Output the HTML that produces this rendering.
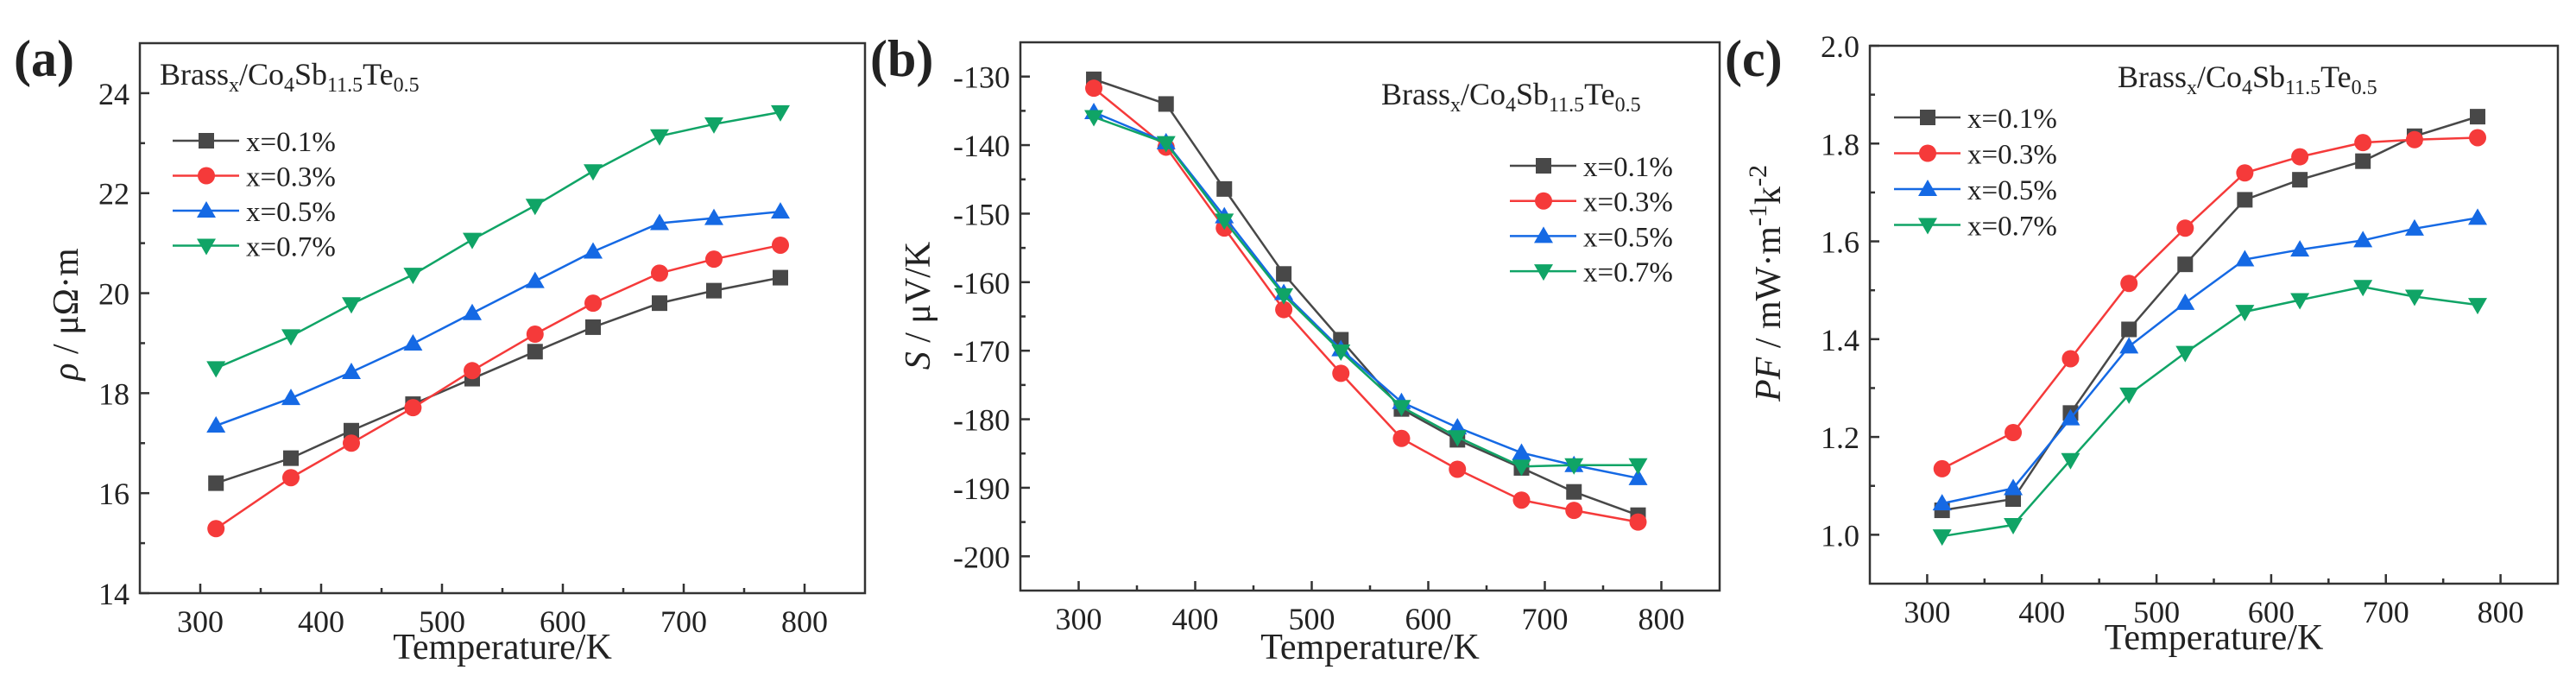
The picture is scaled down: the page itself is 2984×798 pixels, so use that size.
<!DOCTYPE html>
<html><head><meta charset="utf-8"><style>
html,body{margin:0;padding:0;background:#fff;}
svg{display:block;font-family:"Liberation Serif",serif;}
svg text{font-family:"Liberation Serif",serif;}
</style></head><body>
<svg id="fig" width="2984" height="798" viewBox="0 0 2984 798" xmlns="http://www.w3.org/2000/svg" font-family="Liberation Serif, serif"></svg>
<script>
const temps = [313, 375, 425, 476, 525, 577, 625, 680, 725, 780];
const seriesNames = ["x=0.1%", "x=0.3%", "x=0.5%", "x=0.7%"];
const rhoA1 = [16.2, 16.7, 17.25, 17.78, 18.29, 18.83, 19.32, 19.80, 20.05, 20.31];
const rhoA3 = [15.29, 16.31, 17.0, 17.71, 18.45, 19.18, 19.8, 20.4, 20.68, 20.96];
const rhoA5 = [17.35, 17.9, 18.42, 18.99, 19.6, 20.24, 20.83, 21.4, 21.5, 21.63];
const rhoA7 = [18.5, 19.14, 19.78, 20.37, 21.07, 21.75, 22.44, 23.14, 23.38, 23.62];
const seebB1 = [-130.4, -134, -146.4, -158.8, -168.4, -178.5, -183, -187.1, -190.6, -194];
const seebB3 = [-131.7, -140.3, -152.1, -164, -173.3, -182.8, -187.3, -191.8, -193.3, -195];
const seebB5 = [-135.2, -139.6, -150.4, -161.6, -169.8, -177.5, -181.2, -184.9, -186.7, -188.6];
const seebB7 = [-135.9, -139.7, -151, -161.9, -170.1, -178.2, -182.6, -186.9, -186.7, -186.7];
const pfC1 = [1.05, 1.073, 1.249, 1.42, 1.553, 1.685, 1.726, 1.764, 1.815, 1.855];
const pfC3 = [1.135, 1.209, 1.36, 1.514, 1.627, 1.74, 1.773, 1.802, 1.808, 1.812];
const pfC5 = [1.064, 1.095, 1.238, 1.385, 1.474, 1.563, 1.583, 1.602, 1.626, 1.648];
const pfC7 = [0.997, 1.02, 1.153, 1.287, 1.372, 1.456, 1.48, 1.507, 1.487, 1.47];
const xTicks = [300, 400, 500, 600, 700, 800];
const yTicksA = [14, 16, 18, 20, 22, 24];
const yTicksB = [-200, -190, -180, -170, -160, -150, -140, -130];
const yTicksC = [1.0, 1.2, 1.4, 1.6, 1.8, 2.0];

const NS = "http://www.w3.org/2000/svg";
const svg = document.getElementById("fig");
const FF = '"Liberation Serif", serif';
const colors = ["#484848", "#f53a3a", "#1569e4", "#10a466"];
const markers = ["square", "circle", "up", "down"];
function mk(tag, attrs, parent) {
  const e = document.createElementNS(NS, tag);
  for (const k in attrs) e.setAttribute(k, attrs[k]);
  if (tag === "text") e.style.fontFamily = FF;
  (parent || svg).appendChild(e);
  return e;
}
function marker(g, type, cx, cy, color) {
  let e;
  if (type === "square") e = mk("rect", {x: cx - 9, y: cy - 9, width: 18, height: 18, fill: color}, g);
  else if (type === "circle") e = mk("circle", {cx: cx, cy: cy, r: 10, fill: color}, g);
  else if (type === "up") e = mk("polygon", {points: `${cx},${cy - 11} ${cx + 11},${cy + 8} ${cx - 11},${cy + 8}`, fill: color}, g);
  else e = mk("polygon", {points: `${cx},${cy + 11} ${cx + 11},${cy - 8} ${cx - 11},${cy - 8}`, fill: color}, g);
  
  
  return e;
}
function panel(cfg) {
  const g = mk("g", {});
  
  
  const L = cfg.l, R = cfg.r, T = cfg.t, B = cfg.b;
  const sx = v => L + (v - 250) / 600 * (R - L);
  const sy = v => B - (v - cfg.ymin) / (cfg.ymax - cfg.ymin) * (B - T);
  for (let v = 300; v <= 800; v += 50) {
    const major = v % 100 === 0;
    const t = mk("line", {x1: sx(v), x2: sx(v), y1: B, y2: B - (major ? 11 : 6), stroke: "#333", "stroke-width": 2.5}, g);
    
    
  }
  xTicks.forEach(v => {
    const t = mk("text", {x: sx(v), y: B + 45, "font-size": 36, "text-anchor": "middle", fill: "#222"}, g);
    t.textContent = v;
    
    
  });
  const yt = cfg.yticks;
  const step = yt[1] - yt[0];
  for (let i = 0; i < yt.length; i++) {
    const v = yt[i];
    const t = mk("line", {x1: L, x2: L + 11, y1: sy(v), y2: sy(v), stroke: "#333", "stroke-width": 2.5}, g);
    
    
    const mv = v + step / 2;
    if (mv < cfg.ymax) {
      const m = mk("line", {x1: L, x2: L + 6, y1: sy(mv), y2: sy(mv), stroke: "#333", "stroke-width": 2.5}, g);
      
      
    }
    const lbl = mk("text", {x: L - 12, y: sy(v) + 13, "font-size": 36, "text-anchor": "end", fill: "#222"}, g);
    lbl.textContent = cfg.fmt(v);
    
    
  }
  cfg.data.forEach((arr, si) => {
    const sg = mk("g", {}, g);
    
    
    const pts = arr.map((v, i) => sx(temps[i]) + "," + sy(v)).join(" ");
    const pl = mk("polyline", {points: pts, fill: "none", stroke: colors[si], "stroke-width": 2.5}, sg);
    
    
    arr.forEach((v, i) => marker(sg, markers[si], sx(temps[i]), sy(v), colors[si]));
  });
  const fr = mk("rect", {x: L, y: T, width: R - L, height: B - T, fill: "none", stroke: "#333", "stroke-width": 2.5}, g);
  
  
  const lg = mk("g", {}, g);
  
  
  seriesNames.forEach((n, i) => {
    const y = cfg.legY + i * cfg.legDy;
    const ln = mk("line", {x1: cfg.legX, x2: cfg.legX + 77, y1: y, y2: y, stroke: colors[i], "stroke-width": 2.5}, lg);
    
    
    marker(lg, markers[i], cfg.legX + 39, y, colors[i]);
    const t = mk("text", {x: cfg.legX + 85, y: y + 12, "font-size": 33, fill: "#222"}, lg);
    t.textContent = n;
    
    
  });
  const an = mk("text", {x: cfg.annX, y: cfg.annY, "font-size": 36, fill: "#222"}, g);
  an.innerHTML = 'Brass<tspan font-size="24" dy="8">x</tspan><tspan dy="-8">/Co</tspan><tspan font-size="24" dy="8">4</tspan><tspan dy="-8">Sb</tspan><tspan font-size="24" dy="8">11.5</tspan><tspan dy="-8">Te</tspan><tspan font-size="24" dy="8">0.5</tspan>';
  
  
  const xt = mk("text", {x: (L + R) / 2, y: cfg.xtY, "font-size": 42, "text-anchor": "middle", fill: "#222"}, g);
  xt.textContent = "Temperature/K";
  
  
  const ytl = mk("text", {x: 0, y: 0, "font-size": 42, "text-anchor": "middle", fill: "#222", transform: `translate(${cfg.ytX},${cfg.ytY}) rotate(-90)`}, g);
  ytl.innerHTML = cfg.ytitle;
  
  
  const pl = mk("text", {x: cfg.plX, y: 88, "font-size": 60, "font-weight": "bold", fill: "#222"}, g);
  pl.textContent = cfg.label;
  
  
}
panel({name: "panel-a-resistivity", l: 162, r: 1002, t: 50, b: 687, ymin: 14, ymax: 25, yticks: yTicksA, fmt: v => v,
  data: [rhoA1, rhoA3, rhoA5, rhoA7], legX: 200, legY: 163, legDy: 40.5, annX: 185, annY: 98, xtY: 763, ytX: 90, ytY: 364,
  ytitle: '<tspan font-style="italic">ρ</tspan> /  μΩ·m', plX: 16, label: "(a)"});
panel({name: "panel-b-seebeck", l: 1182, r: 1992, t: 49, b: 684, ymin: -205, ymax: -125, yticks: yTicksB, fmt: v => v,
  data: [seebB1, seebB3, seebB5, seebB7], legX: 1749, legY: 192, legDy: 40.7, annX: 1600, annY: 121, xtY: 763, ytX: 1077, ytY: 354,
  ytitle: '<tspan font-style="italic">S</tspan>  /  μV/K', plX: 1008, label: "(b)"});
panel({name: "panel-c-power-factor", l: 2166, r: 2963, t: 53, b: 676, ymin: 0.9, ymax: 2.0, yticks: yTicksC, fmt: v => v.toFixed(1),
  data: [pfC1, pfC3, pfC5, pfC7], legX: 2194, legY: 136, legDy: 41.5, annX: 2453, annY: 101, xtY: 752, ytX: 2062, ytY: 328,
  ytitle: '<tspan font-style="italic">PF</tspan> / mW·m<tspan font-size="30" dy="-16">-1</tspan><tspan dy="16">k</tspan><tspan font-size="30" dy="-16">-2</tspan>', plX: 1998, label: "(c)"});
</script>
</body></html>
